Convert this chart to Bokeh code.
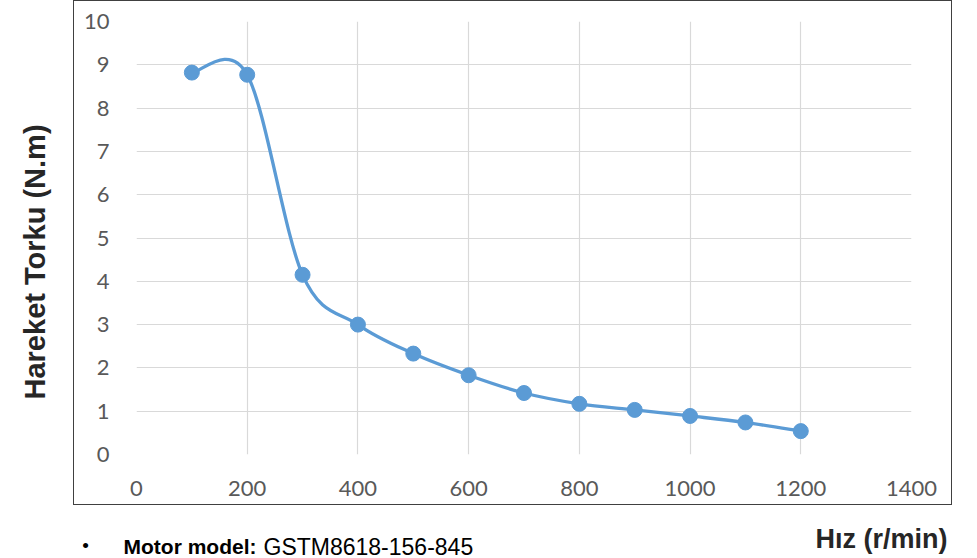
from bokeh.plotting import figure
from bokeh.models import Range1d, SingleIntervalTicker, Label
from bokeh.layouts import row, column
from bokeh.embed import file_html
from bokeh.resources import INLINE
import math

# ---- data ----
speed = [100, 200, 300, 400, 500, 600, 700, 800, 900, 1000, 1100, 1200]
torque = [8.82, 8.77, 4.15, 3.0, 2.33, 1.83, 1.42, 1.17, 1.03, 0.89, 0.74, 0.54]
x_title = "Hız (r/min)"
y_title = "Hareket Torku (N.m)"
note_bold = "Motor model:"
note_text = "GSTM8618-156-845"

LINE_COLOR = "#5b9bd5"
TITLE_FONT = "Liberation Sans"


def blank(width, height):
    f = figure(width=width, height=height, output_backend="svg", toolbar_location=None,
               x_axis_type=None, y_axis_type=None,
               x_range=Range1d(0, width), y_range=Range1d(height, 0),
               min_border=0, min_border_left=0, min_border_right=0,
               min_border_top=0, min_border_bottom=0)
    f.outline_line_color = None
    f.background_fill_color = "white"
    f.border_fill_color = "white"
    return f


# ---- main chart (inside the boxed area) ----
p = figure(width=879, height=505, output_backend="svg", toolbar_location=None,
           x_range=Range1d(0, 1400), y_range=Range1d(0, 10),
           min_border_left=62, min_border_right=42, min_border_top=20, min_border_bottom=52)
p.outline_line_color = None
p.background_fill_color = "white"
p.border_fill_color = "white"
p.styles = {"border": "1.5px solid #404040"}

for ax, interval in ((p.xaxis[0], 200), (p.yaxis[0], 1)):
    ax.ticker = SingleIntervalTicker(interval=interval)
    ax.axis_line_color = None
    ax.major_tick_line_color = None
    ax.minor_tick_line_color = None
    ax.major_label_text_font = "Lato"
    ax.major_label_text_font_size = "22px"
    ax.major_label_text_color = "#595959"
p.xaxis.major_label_standoff = 20
p.yaxis.major_label_standoff = 21

for g, interval in ((p.xgrid[0], 200), (p.ygrid[0], 1)):
    g.ticker = SingleIntervalTicker(interval=interval)
    g.grid_line_color = "#d9d9d9"
    g.grid_line_width = 1.2

# smooth bezier segments built from the data points
x0, y0, x1, y1, cx0, cy0, cx1, cy1 = [], [], [], [], [], [], [], []
n = len(speed)
for i in range(n - 1):
    pa = (speed[max(i - 1, 0)], torque[max(i - 1, 0)])
    pb = (speed[i], torque[i])
    pc = (speed[i + 1], torque[i + 1])
    pd = (speed[min(i + 2, n - 1)], torque[min(i + 2, n - 1)])
    x0.append(pb[0]); y0.append(pb[1])
    x1.append(pc[0]); y1.append(pc[1])
    cx0.append(pb[0] + (pc[0] - pa[0]) / 6); cy0.append(pb[1] + (pc[1] - pa[1]) / 6)
    cx1.append(pc[0] - (pd[0] - pb[0]) / 6); cy1.append(pc[1] - (pd[1] - pb[1]) / 6)

p.bezier(x0=x0, y0=y0, x1=x1, y1=y1, cx0=cx0, cy0=cy0, cx1=cx1, cy1=cy1,
         line_color=LINE_COLOR, line_width=3.3)
p.scatter(speed, torque, size=15, marker="circle", fill_color=LINE_COLOR, line_color=LINE_COLOR)

# ---- y axis title (left of the box) ----
left = blank(73, 505)
left.add_layout(Label(x=34, y=442, text=y_title, angle=math.pi / 2,
                      text_align="left", text_baseline="middle", text_font=TITLE_FONT,
                      text_font_style="bold", text_font_size="29px", text_color="#262626"))

# ---- x axis title and note (below the box) ----
bottom = blank(977, 53)
bottom.add_layout(Label(x=947, y=33, text=x_title,
                        text_align="right", text_baseline="middle", text_font=TITLE_FONT,
                        text_font_style="bold", text_font_size="27px", text_color="#262626"))
bottom.add_layout(Label(x=85, y=40, text="•",
                        text_align="center", text_baseline="middle", text_font=TITLE_FONT,
                        text_font_size="19px", text_color="#000000"))
bottom.add_layout(Label(x=123, y=41, text=note_bold,
                        text_align="left", text_baseline="middle", text_font=TITLE_FONT,
                        text_font_style="bold", text_font_size="21px", text_color="#000000"))
bottom.add_layout(Label(x=263, y=41, text=note_text,
                        text_align="left", text_baseline="middle", text_font=TITLE_FONT,
                        text_font_size="23px", text_color="#000000"))

layout = column(row(left, p), bottom)
open("out.html", "w").write(file_html(layout, INLINE))
